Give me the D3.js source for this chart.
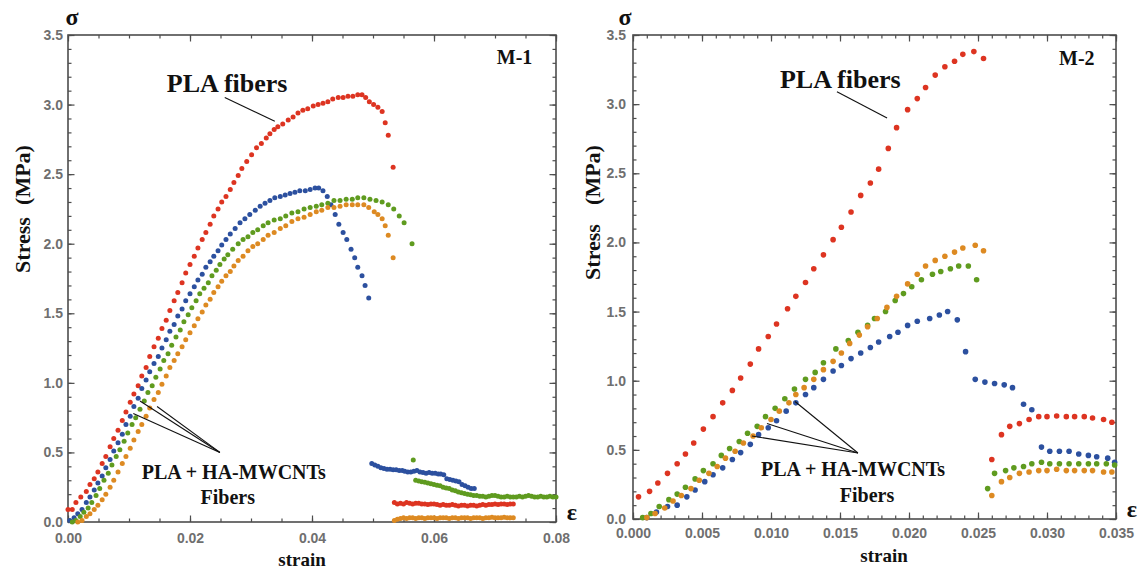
<!DOCTYPE html>
<html>
<head>
<meta charset="utf-8">
<script src="https://cdn.jsdelivr.net/npm/d3@7"></script>
<style>
  body { margin: 0; background: #fff; }
  svg { display: block; }
</style>
</head>
<body>
<svg id="chart" width="1145" height="573"></svg>
<script>
// ---------- Sample M-1 : [strain, stress (MPa)] ----------
const m1Pla = [
  [0.0000,0.09],[0.0007,0.09],[0.0013,0.14],[0.0021,0.18],[0.0030,0.22],[0.0036,0.27],[0.0043,0.31],
  [0.0049,0.36],[0.0056,0.42],[0.0062,0.47],[0.0069,0.54],[0.0075,0.60],[0.0082,0.66],[0.0089,0.73],
  [0.0095,0.79],[0.0102,0.86],[0.0108,0.92],[0.0115,0.98],[0.0121,1.05],[0.0128,1.11],[0.0134,1.19],
  [0.0141,1.26],[0.0148,1.32],[0.0154,1.39],[0.0161,1.45],[0.0167,1.52],[0.0174,1.59],[0.0180,1.65],
  [0.0187,1.72],[0.0193,1.79],[0.0200,1.85],[0.0207,1.91],[0.0213,1.97],[0.0220,2.03],[0.0226,2.08],
  [0.0233,2.14],[0.0239,2.20],[0.0246,2.25],[0.0252,2.30],[0.0259,2.34],[0.0266,2.39],[0.0272,2.44],
  [0.0279,2.49],[0.0285,2.54],[0.0293,2.59],[0.0301,2.64],[0.0309,2.69],[0.0317,2.72],[0.0325,2.76],
  [0.0331,2.79],[0.0338,2.82],[0.0344,2.84],[0.0352,2.86],[0.0361,2.89],[0.0369,2.91],[0.0377,2.94],
  [0.0385,2.96],[0.0393,2.97],[0.0402,2.99],[0.0410,3.00],[0.0418,3.01],[0.0426,3.02],[0.0434,3.04],
  [0.0443,3.05],[0.0451,3.05],[0.0459,3.06],[0.0467,3.06],[0.0475,3.07],[0.0482,3.07],[0.0488,3.05],
  [0.0494,3.02],[0.0501,3.00],[0.0508,2.98],[0.0515,2.95],[0.0520,2.87],[0.0525,2.78],[0.0533,2.55],
  [0.0535,0.14],[0.0540,0.13],[0.0545,0.135],[0.0550,0.13],[0.0555,0.14],[0.0560,0.135],[0.0565,0.13],
  [0.0570,0.135],[0.0575,0.135],[0.0580,0.13],[0.0585,0.13],[0.0590,0.125],[0.0595,0.13],[0.0600,0.13],
  [0.0605,0.125],[0.0610,0.12],[0.0615,0.125],[0.0620,0.12],[0.0625,0.12],[0.0630,0.125],[0.0635,0.12],
  [0.0640,0.115],[0.0645,0.12],[0.0650,0.12],[0.0655,0.115],[0.0660,0.12],[0.0665,0.12],[0.0670,0.115],
  [0.0675,0.12],[0.0680,0.125],[0.0685,0.12],[0.0690,0.125],[0.0695,0.125],[0.0700,0.13],[0.0705,0.125],
  [0.0710,0.13],[0.0715,0.13],[0.0720,0.125],[0.0725,0.13],[0.0730,0.13]
];

const m1HaA = [
  [0.0003,0.01],[0.0010,0.03],[0.0016,0.06],[0.0023,0.09],[0.0030,0.14],[0.0036,0.18],[0.0043,0.23],
  [0.0049,0.28],[0.0056,0.33],[0.0062,0.39],[0.0069,0.45],[0.0075,0.51],[0.0082,0.57],[0.0089,0.63],
  [0.0095,0.70],[0.0102,0.76],[0.0108,0.83],[0.0115,0.89],[0.0121,0.96],[0.0128,1.02],[0.0134,1.08],
  [0.0141,1.14],[0.0148,1.19],[0.0154,1.25],[0.0161,1.31],[0.0167,1.37],[0.0174,1.42],[0.0180,1.48],
  [0.0187,1.53],[0.0193,1.59],[0.0200,1.64],[0.0207,1.69],[0.0213,1.74],[0.0220,1.78],[0.0226,1.83],
  [0.0233,1.87],[0.0239,1.91],[0.0246,1.95],[0.0252,1.99],[0.0259,2.03],[0.0266,2.07],[0.0274,2.11],
  [0.0282,2.15],[0.0290,2.18],[0.0298,2.21],[0.0307,2.24],[0.0315,2.27],[0.0323,2.29],[0.0331,2.31],
  [0.0339,2.33],[0.0348,2.34],[0.0356,2.35],[0.0364,2.36],[0.0372,2.37],[0.0380,2.38],[0.0389,2.38],
  [0.0397,2.39],[0.0405,2.40],[0.0411,2.40],[0.0418,2.38],[0.0425,2.34],[0.0431,2.28],[0.0438,2.21],
  [0.0444,2.14],[0.0451,2.08],[0.0457,2.03],[0.0464,1.96],[0.0470,1.90],[0.0475,1.83],[0.0482,1.77],
  [0.0487,1.70],[0.0493,1.61],
  [0.0498,0.42],[0.0503,0.41],[0.0508,0.40],[0.0513,0.39],[0.0518,0.385],[0.0523,0.38],[0.0528,0.38],
  [0.0533,0.375],[0.0538,0.375],[0.0543,0.37],[0.0548,0.37],[0.0552,0.365],[0.0557,0.36],[0.0562,0.36],
  [0.0567,0.365],[0.0572,0.37],[0.0577,0.36],[0.0582,0.355],[0.0587,0.35],[0.0592,0.355],[0.0597,0.35],
  [0.0602,0.35],[0.0607,0.345],[0.0611,0.345],[0.0616,0.34],[0.0621,0.31],[0.0626,0.305],[0.0631,0.30],
  [0.0636,0.295],[0.0641,0.29],[0.0646,0.27],[0.0651,0.26],[0.0656,0.25],[0.0661,0.24],[0.0666,0.24]
];

const m1HaB = [
  [0.0007,0.00],[0.0013,0.01],[0.0020,0.04],[0.0026,0.07],[0.0033,0.10],[0.0039,0.14],[0.0046,0.19],
  [0.0052,0.24],[0.0059,0.30],[0.0066,0.35],[0.0072,0.41],[0.0079,0.47],[0.0085,0.52],[0.0092,0.58],
  [0.0098,0.64],[0.0105,0.70],[0.0111,0.75],[0.0118,0.81],[0.0125,0.87],[0.0131,0.93],[0.0138,0.98],
  [0.0144,1.04],[0.0151,1.10],[0.0157,1.16],[0.0164,1.21],[0.0170,1.27],[0.0177,1.33],[0.0184,1.38],
  [0.0190,1.44],[0.0197,1.49],[0.0203,1.54],[0.0210,1.59],[0.0216,1.64],[0.0223,1.68],[0.0230,1.72],
  [0.0236,1.77],[0.0243,1.81],[0.0249,1.85],[0.0256,1.89],[0.0262,1.92],[0.0270,1.96],[0.0279,2.00],
  [0.0287,2.03],[0.0295,2.05],[0.0303,2.08],[0.0311,2.10],[0.0320,2.13],[0.0328,2.15],[0.0338,2.17],
  [0.0348,2.18],[0.0357,2.20],[0.0367,2.22],[0.0377,2.23],[0.0387,2.25],[0.0397,2.26],[0.0407,2.27],
  [0.0416,2.28],[0.0426,2.29],[0.0436,2.31],[0.0446,2.31],[0.0456,2.32],[0.0466,2.32],[0.0475,2.33],
  [0.0485,2.33],[0.0495,2.32],[0.0505,2.31],[0.0515,2.30],[0.0525,2.28],[0.0534,2.25],[0.0543,2.20],
  [0.0551,2.15],[0.0564,2.00],
  [0.0566,0.445],
  [0.0570,0.30],[0.0575,0.295],[0.0580,0.29],[0.0585,0.285],[0.0590,0.28],[0.0595,0.275],[0.0600,0.27],
  [0.0605,0.265],[0.0610,0.26],[0.0615,0.25],[0.0620,0.245],[0.0625,0.24],[0.0630,0.23],[0.0635,0.225],
  [0.0640,0.215],[0.0645,0.21],[0.0650,0.205],[0.0655,0.20],[0.0660,0.195],[0.0665,0.19],
  [0.0670,0.19],[0.0675,0.185],[0.0680,0.185],[0.0685,0.18],[0.0690,0.185],[0.0695,0.19],[0.0700,0.19],
  [0.0705,0.185],[0.0710,0.18],[0.0715,0.18],[0.0720,0.185],[0.0725,0.18],[0.0730,0.18],[0.0735,0.18],
  [0.0740,0.185],[0.0745,0.18],[0.0750,0.185],[0.0755,0.19],[0.0760,0.185],[0.0765,0.18],[0.0770,0.18],
  [0.0775,0.185],[0.0780,0.18],[0.0785,0.18],[0.0790,0.185],[0.0795,0.18],[0.0800,0.18]
];

const m1HaC = [
  [0.0016,0.00],[0.0023,0.01],[0.0030,0.04],[0.0036,0.06],[0.0043,0.09],[0.0049,0.12],[0.0056,0.16],
  [0.0062,0.20],[0.0069,0.25],[0.0075,0.30],[0.0082,0.36],[0.0089,0.42],[0.0095,0.47],[0.0102,0.53],
  [0.0108,0.59],[0.0115,0.65],[0.0121,0.70],[0.0128,0.76],[0.0134,0.82],[0.0141,0.88],[0.0148,0.93],
  [0.0154,0.99],[0.0161,1.05],[0.0167,1.11],[0.0174,1.16],[0.0180,1.21],[0.0187,1.26],[0.0193,1.31],
  [0.0200,1.36],[0.0207,1.41],[0.0213,1.46],[0.0220,1.51],[0.0226,1.56],[0.0233,1.60],[0.0239,1.65],
  [0.0246,1.69],[0.0252,1.73],[0.0259,1.77],[0.0266,1.80],[0.0272,1.84],[0.0279,1.88],[0.0287,1.91],
  [0.0295,1.95],[0.0303,1.98],[0.0311,2.00],[0.0320,2.03],[0.0328,2.06],[0.0338,2.08],[0.0348,2.11],
  [0.0357,2.13],[0.0367,2.16],[0.0377,2.18],[0.0387,2.19],[0.0397,2.21],[0.0407,2.23],[0.0416,2.24],
  [0.0426,2.26],[0.0436,2.26],[0.0446,2.27],[0.0456,2.28],[0.0466,2.28],[0.0475,2.28],[0.0485,2.28],
  [0.0493,2.26],[0.0502,2.23],[0.0508,2.21],[0.0515,2.18],[0.0520,2.13],[0.0525,2.06],[0.0533,1.90],
  [0.0535,0.01],[0.0540,0.02],[0.0545,0.025],[0.0550,0.03],[0.0555,0.025],[0.0560,0.03],[0.0565,0.03],
  [0.0570,0.025],[0.0575,0.03],[0.0580,0.03],[0.0585,0.025],[0.0590,0.03],[0.0595,0.03],[0.0600,0.03],
  [0.0605,0.025],[0.0610,0.03],[0.0615,0.03],[0.0620,0.03],[0.0625,0.025],[0.0630,0.03],[0.0635,0.03],
  [0.0640,0.025],[0.0645,0.03],[0.0650,0.03],[0.0655,0.03],[0.0660,0.025],[0.0665,0.03],[0.0670,0.03],
  [0.0675,0.03],[0.0680,0.025],[0.0685,0.03],[0.0690,0.03],[0.0695,0.035],[0.0700,0.03],[0.0705,0.03],
  [0.0710,0.03],[0.0715,0.035],[0.0720,0.03],[0.0725,0.03],[0.0730,0.03]
];

// ---------- Sample M-2 : [strain, stress (MPa)] ----------
const m2Pla = [
  [0.0004,0.16],[0.0012,0.20],[0.0018,0.26],[0.0025,0.33],[0.0032,0.40],[0.0038,0.47],[0.0044,0.55],
  [0.0051,0.65],[0.0058,0.74],[0.0065,0.84],[0.0072,0.93],[0.0078,1.02],[0.0085,1.12],[0.0091,1.23],
  [0.0098,1.32],[0.0104,1.41],[0.0112,1.52],[0.0118,1.61],[0.0125,1.71],[0.0131,1.81],[0.0138,1.91],
  [0.0145,2.02],[0.0151,2.11],[0.0158,2.22],[0.0165,2.34],[0.0172,2.43],[0.0178,2.53],[0.0185,2.68],
  [0.0191,2.83],[0.0199,2.96],[0.0206,3.04],[0.0212,3.12],[0.0219,3.21],[0.0226,3.27],[0.0233,3.31],
  [0.0239,3.36],[0.0247,3.38],[0.0254,3.33],
  [0.0260,0.43],[0.0267,0.61],[0.0273,0.67],[0.0280,0.69],[0.0287,0.72],[0.0294,0.74],[0.0300,0.74],
  [0.0307,0.745],[0.0314,0.74],[0.0320,0.74],[0.0327,0.74],[0.0333,0.73],[0.0341,0.72],[0.0347,0.70]
];

const m2HaA = [
  [0.0010,0.01],[0.0017,0.05],[0.0025,0.09],[0.0032,0.10],[0.0039,0.16],[0.0045,0.21],[0.0052,0.27],
  [0.0058,0.32],[0.0065,0.37],[0.0072,0.43],[0.0078,0.48],[0.0085,0.54],[0.0091,0.61],[0.0098,0.66],
  [0.0104,0.71],[0.0111,0.78],[0.0118,0.84],[0.0125,0.90],[0.0131,0.95],[0.0138,1.01],[0.0145,1.07],
  [0.0151,1.11],[0.0158,1.16],[0.0165,1.20],[0.0172,1.24],[0.0178,1.28],[0.0186,1.32],[0.0192,1.35],
  [0.0199,1.40],[0.0206,1.43],[0.0215,1.45],[0.0222,1.475],[0.0228,1.50],[0.0235,1.44],[0.0241,1.21],
  [0.0248,1.01],[0.0255,0.99],[0.0262,0.98],[0.0269,0.97],[0.0275,0.95],[0.0283,0.83],[0.0289,0.79],
  [0.0296,0.52],[0.0302,0.49],[0.0309,0.49],[0.0316,0.49],[0.0323,0.47],[0.0330,0.46],[0.0336,0.45],
  [0.0344,0.44],[0.0349,0.41]
];

const m2HaB = [
  [0.0007,0.01],[0.0013,0.04],[0.0019,0.09],[0.0026,0.14],[0.0032,0.18],[0.0038,0.23],[0.0045,0.29],
  [0.0051,0.35],[0.0058,0.40],[0.0064,0.46],[0.0070,0.51],[0.0077,0.56],[0.0083,0.62],[0.0090,0.67],
  [0.0096,0.74],[0.0103,0.80],[0.0110,0.87],[0.0117,0.94],[0.0125,1.01],[0.0132,1.06],[0.0138,1.13],
  [0.0147,1.23],[0.0156,1.29],[0.0163,1.35],[0.0170,1.40],[0.0175,1.45],[0.0183,1.50],[0.0190,1.58],
  [0.0196,1.63],[0.0202,1.68],[0.0209,1.73],[0.0217,1.77],[0.0223,1.79],[0.0230,1.81],[0.0236,1.83],
  [0.0243,1.83],[0.0249,1.73],
  [0.0257,0.22],[0.0262,0.33],[0.0270,0.35],[0.0276,0.37],[0.0283,0.38],[0.0289,0.40],[0.0296,0.41],
  [0.0302,0.40],[0.0309,0.40],[0.0316,0.40],[0.0323,0.40],[0.0330,0.40],[0.0336,0.40],[0.0343,0.40],
  [0.0349,0.39]
];

const m2HaC = [
  [0.0010,0.01],[0.0016,0.04],[0.0023,0.08],[0.0029,0.13],[0.0035,0.17],[0.0042,0.22],[0.0048,0.28],
  [0.0055,0.33],[0.0061,0.38],[0.0067,0.44],[0.0074,0.49],[0.0080,0.55],[0.0087,0.60],[0.0093,0.66],
  [0.0100,0.72],[0.0106,0.78],[0.0113,0.84],[0.0118,0.90],[0.0124,0.95],[0.0131,1.01],[0.0138,1.08],
  [0.0145,1.14],[0.0151,1.20],[0.0157,1.27],[0.0164,1.33],[0.0170,1.39],[0.0177,1.45],[0.0184,1.53],
  [0.0191,1.61],[0.0199,1.70],[0.0206,1.77],[0.0212,1.83],[0.0219,1.87],[0.0226,1.90],[0.0233,1.93],
  [0.0239,1.96],[0.0248,1.98],[0.0254,1.94],
  [0.0260,0.17],[0.0267,0.27],[0.0273,0.30],[0.0280,0.33],[0.0287,0.34],[0.0294,0.35],[0.0300,0.35],
  [0.0307,0.36],[0.0314,0.35],[0.0320,0.35],[0.0327,0.35],[0.0333,0.35],[0.0341,0.34],[0.0347,0.34]
];

// ---------- Axis ticks ----------
const stressMajor = [0, 0.5, 1.0, 1.5, 2.0, 2.5, 3.0, 3.5];
const m1StrainMajor = [0, 0.02, 0.04, 0.06, 0.08];
const m2StrainMajor = [0, 0.005, 0.010, 0.015, 0.020, 0.025, 0.030, 0.035];

// ---------- Styling ----------
const seriesColors = ["#dd3421", "#2c509f", "#5f9b1f", "#dd8a22"];
const serif = "'Liberation Serif','Times New Roman',serif";
const sans = "'Liberation Sans',Arial,sans-serif";
const frameColor = "#4d4d4d";
const tickLabelColor = "#6f6f6f";

const panels = [
  {
    name: "M-1",
    box: { x0: 68, x1: 556, y0: 35, y1: 522 },
    xMax: 0.08, xMajor: m1StrainMajor, xMinorStep: 0.005, xFormat: d3.format(".2f"),
    xPad: 11, yPad: 5, r: 2.5,
    series: [m1Pla, m1HaA, m1HaB, m1HaC],
    plaText: [0.0162, 3.09], plaLine: [[0.0257, 3.05], [0.0339, 2.88]],
    haText: [0.0121, 0.31], fibText: [0.0262, 0.13],
    haApex: [0.0249, 0.50], haTargets: [[0.0107, 0.78], [0.0118, 0.87], [0.0146, 0.83]],
    tag: [0.0703, 3.29],
    sigmaDx: 4, stressX: 22, stressY: 245, strainX: 302, strainDy: 44
  },
  {
    name: "M-2",
    box: { x0: 633, x1: 1116, y0: 35, y1: 519 },
    xMax: 0.035, xMajor: m2StrainMajor, xMinorStep: 0.001, xFormat: d3.format(".3f"),
    xPad: 9, yPad: 7, r: 2.8,
    series: [m2Pla, m2HaA, m2HaB, m2HaC],
    plaText: [0.01065, 3.12], plaLine: [[0.01478, 3.09], [0.01841, 2.90]],
    haText: [0.00928, 0.31], fibText: [0.01696, 0.12],
    haApex: [0.0163, 0.477], haTargets: [[0.00862, 0.60], [0.00971, 0.69], [0.01174, 0.85]],
    tag: [0.03087, 3.28],
    sigmaDx: -8, stressX: 592, stressY: 252, strainX: 884, strainDy: 43
  }
];

const svg = d3.select("#chart");

function styleAxis(g) {
  g.select(".domain").remove();
  g.selectAll(".tick line").attr("stroke", frameColor).attr("stroke-width", 1.2);
  g.selectAll(".tick text")
    .attr("fill", tickLabelColor)
    .attr("font-family", sans)
    .attr("font-weight", "bold")
    .attr("font-size", 14);
}

panels.forEach(p => {
  const b = p.box;
  const x = d3.scaleLinear().domain([0, p.xMax]).range([b.x0, b.x1]);
  const y = d3.scaleLinear().domain([0, 3.5]).range([b.y1, b.y0]);
  const g = svg.append("g");

  const nx = Math.round(p.xMax / p.xMinorStep);
  const xMinor = d3.range(nx + 1).map(i => +(i * p.xMinorStep).toFixed(4));
  const yMinor = d3.range(36).map(i => +(i * 0.1).toFixed(1));

  // minor ticks on all four sides
  g.append("g").attr("transform", `translate(0,${b.y1})`)
    .call(d3.axisBottom(x).tickValues(xMinor).tickSizeInner(-3.5).tickSizeOuter(0).tickFormat(""))
    .call(styleAxis);
  g.append("g").attr("transform", `translate(0,${b.y0})`)
    .call(d3.axisTop(x).tickValues(xMinor).tickSizeInner(-3.5).tickSizeOuter(0).tickFormat(""))
    .call(styleAxis);
  g.append("g").attr("transform", `translate(${b.x0},0)`)
    .call(d3.axisLeft(y).tickValues(yMinor).tickSizeInner(-3.5).tickSizeOuter(0).tickFormat(""))
    .call(styleAxis);
  g.append("g").attr("transform", `translate(${b.x1},0)`)
    .call(d3.axisRight(y).tickValues(yMinor).tickSizeInner(-3.5).tickSizeOuter(0).tickFormat(""))
    .call(styleAxis);

  // major ticks, labelled on bottom and left
  g.append("g").attr("transform", `translate(0,${b.y1})`)
    .call(d3.axisBottom(x).tickValues(p.xMajor).tickSizeInner(-6.5).tickSizeOuter(0)
      .tickPadding(p.xPad).tickFormat(p.xFormat))
    .call(styleAxis);
  g.append("g").attr("transform", `translate(0,${b.y0})`)
    .call(d3.axisTop(x).tickValues(p.xMajor).tickSizeInner(-6.5).tickSizeOuter(0).tickFormat(""))
    .call(styleAxis);
  g.append("g").attr("transform", `translate(${b.x0},0)`)
    .call(d3.axisLeft(y).tickValues(stressMajor).tickSizeInner(-6.5).tickSizeOuter(0)
      .tickPadding(p.yPad).tickFormat(d3.format(".1f")))
    .call(styleAxis);
  g.append("g").attr("transform", `translate(${b.x1},0)`)
    .call(d3.axisRight(y).tickValues(stressMajor).tickSizeInner(-6.5).tickSizeOuter(0).tickFormat(""))
    .call(styleAxis);

  // frame
  g.append("rect")
    .attr("x", b.x0).attr("y", b.y0)
    .attr("width", b.x1 - b.x0).attr("height", b.y1 - b.y0)
    .attr("fill", "none").attr("stroke", frameColor).attr("stroke-width", 1.6);

  // data points
  p.series.forEach((s, i) => {
    g.append("g").selectAll("circle").data(s).join("circle")
      .attr("cx", d => x(d[0]))
      .attr("cy", d => y(d[1]))
      .attr("r", p.r)
      .attr("fill", seriesColors[i]);
  });

  // axis symbols and titles
  const txt = (tx, ty, str, size, anchor) => g.append("text")
    .attr("x", tx).attr("y", ty).text(str)
    .attr("font-family", serif).attr("font-weight", "bold")
    .attr("font-size", size).attr("text-anchor", anchor || "start").attr("fill", "#111");

  txt(b.x0 + p.sigmaDx, b.y0 - 10, "σ", 24, "middle");
  txt(b.x1 + 16, b.y1 - 2, "ε", 24, "middle");
  txt(p.strainX, b.y1 + p.strainDy, "strain", 19, "middle");

  const rot = (cy, str) => g.append("text")
    .attr("transform", `translate(${p.stressX},${cy}) rotate(-90)`)
    .attr("dy", "0.35em")
    .text(str)
    .attr("font-family", serif).attr("font-weight", "bold")
    .attr("font-size", 22).attr("text-anchor", "middle").attr("fill", "#111");
  rot(p.stressY, "Stress");
  rot(175, "(MPa)");

  // sample tag
  txt(x(p.tag[0]), y(p.tag[1]), p.name, 20);

  // annotations with leader lines
  txt(x(p.plaText[0]), y(p.plaText[1]), "PLA fibers", 26);
  g.append("line")
    .attr("x1", x(p.plaLine[0][0])).attr("y1", y(p.plaLine[0][1]))
    .attr("x2", x(p.plaLine[1][0])).attr("y2", y(p.plaLine[1][1]))
    .attr("stroke", "#111").attr("stroke-width", 1.1);

  txt(x(p.haText[0]), y(p.haText[1]), "PLA + HA-MWCNTs", 20);
  txt(x(p.fibText[0]), y(p.fibText[1]), "Fibers", 20, "middle");
  p.haTargets.forEach(t => {
    g.append("line")
      .attr("x1", x(p.haApex[0])).attr("y1", y(p.haApex[1]))
      .attr("x2", x(t[0])).attr("y2", y(t[1]))
      .attr("stroke", "#111").attr("stroke-width", 1.1);
  });
});
</script>
</body>
</html>
